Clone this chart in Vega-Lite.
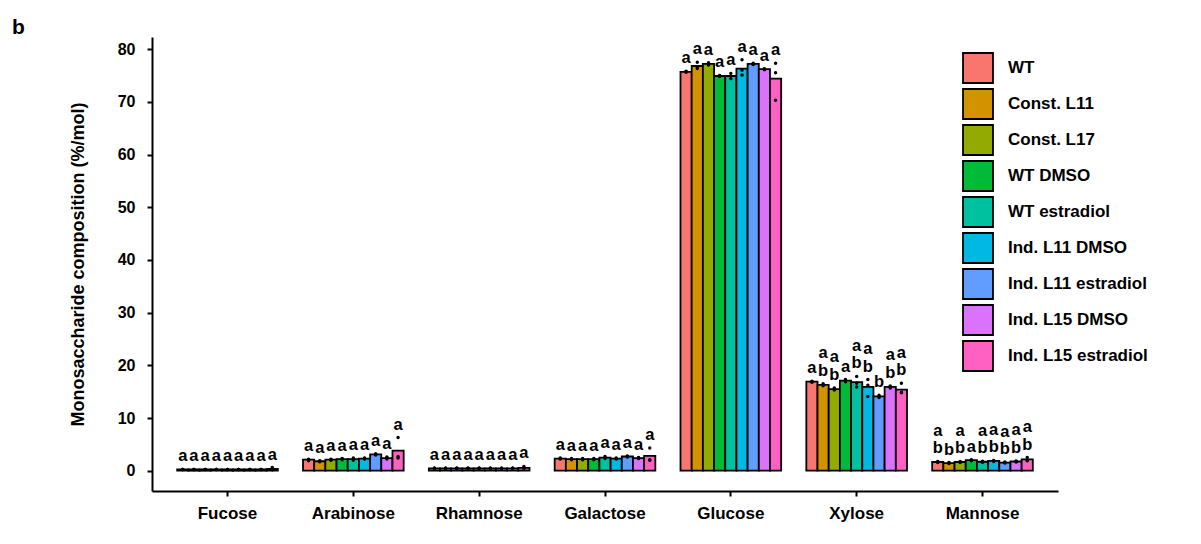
{
  "$schema": "https://vega.github.io/schema/vega-lite/v6.json",
  "width": 906,
  "height": 454,
  "autosize": "none",
  "padding": {"left": 152, "top": 37, "right": 143, "bottom": 53},
  "background": "white",
  "config": {"view": {"stroke": null}, "font": "Liberation Sans"},
  "title": {"text": "b", "anchor": "start", "frame": "group", "dx": -140, "dy": 34, "offset": 0, "baseline": "alphabetic", "fontSize": 21, "fontWeight": "bold", "color": "black"},
  "data": {"values": [
    {"sugar": "Fucose", "group": "WT", "mean": 0.25, "r1": 0.25, "r2": 0.25, "r3": 0.25, "lb": "a", "lt": ""},
    {"sugar": "Fucose", "group": "Const. L11", "mean": 0.25, "r1": 0.25, "r2": 0.25, "r3": 0.25, "lb": "a", "lt": ""},
    {"sugar": "Fucose", "group": "Const. L17", "mean": 0.25, "r1": 0.25, "r2": 0.25, "r3": 0.25, "lb": "a", "lt": ""},
    {"sugar": "Fucose", "group": "WT DMSO", "mean": 0.25, "r1": 0.25, "r2": 0.25, "r3": 0.25, "lb": "a", "lt": ""},
    {"sugar": "Fucose", "group": "WT estradiol", "mean": 0.25, "r1": 0.25, "r2": 0.25, "r3": 0.25, "lb": "a", "lt": ""},
    {"sugar": "Fucose", "group": "Ind. L11 DMSO", "mean": 0.25, "r1": 0.25, "r2": 0.25, "r3": 0.25, "lb": "a", "lt": ""},
    {"sugar": "Fucose", "group": "Ind. L11 estradiol", "mean": 0.25, "r1": 0.25, "r2": 0.25, "r3": 0.25, "lb": "a", "lt": ""},
    {"sugar": "Fucose", "group": "Ind. L15 DMSO", "mean": 0.25, "r1": 0.25, "r2": 0.25, "r3": 0.25, "lb": "a", "lt": ""},
    {"sugar": "Fucose", "group": "Ind. L15 estradiol", "mean": 0.35, "r1": 0.2, "r2": 0.25, "r3": 0.6, "lb": "a", "lt": ""},

    {"sugar": "Arabinose", "group": "WT", "mean": 2.1, "r1": 1.9, "r2": 2.1, "r3": 2.2, "lb": "a", "lt": ""},
    {"sugar": "Arabinose", "group": "Const. L11", "mean": 1.8, "r1": 1.7, "r2": 1.8, "r3": 1.9, "lb": "a", "lt": ""},
    {"sugar": "Arabinose", "group": "Const. L17", "mean": 2.1, "r1": 2.0, "r2": 2.1, "r3": 2.2, "lb": "a", "lt": ""},
    {"sugar": "Arabinose", "group": "WT DMSO", "mean": 2.2, "r1": 2.1, "r2": 2.2, "r3": 2.3, "lb": "a", "lt": ""},
    {"sugar": "Arabinose", "group": "WT estradiol", "mean": 2.2, "r1": 2.0, "r2": 2.2, "r3": 2.4, "lb": "a", "lt": ""},
    {"sugar": "Arabinose", "group": "Ind. L11 DMSO", "mean": 2.3, "r1": 2.2, "r2": 2.3, "r3": 2.4, "lb": "a", "lt": ""},
    {"sugar": "Arabinose", "group": "Ind. L11 estradiol", "mean": 3.1, "r1": 3.0, "r2": 3.1, "r3": 3.2, "lb": "a", "lt": ""},
    {"sugar": "Arabinose", "group": "Ind. L15 DMSO", "mean": 2.4, "r1": 2.2, "r2": 2.4, "r3": 2.6, "lb": "a", "lt": ""},
    {"sugar": "Arabinose", "group": "Ind. L15 estradiol", "mean": 3.8, "r1": 2.4, "r2": 2.7, "r3": 6.3, "lb": "a", "lt": ""},

    {"sugar": "Rhamnose", "group": "WT", "mean": 0.45, "r1": 0.45, "r2": 0.45, "r3": 0.45, "lb": "a", "lt": ""},
    {"sugar": "Rhamnose", "group": "Const. L11", "mean": 0.45, "r1": 0.45, "r2": 0.45, "r3": 0.45, "lb": "a", "lt": ""},
    {"sugar": "Rhamnose", "group": "Const. L17", "mean": 0.45, "r1": 0.45, "r2": 0.45, "r3": 0.45, "lb": "a", "lt": ""},
    {"sugar": "Rhamnose", "group": "WT DMSO", "mean": 0.45, "r1": 0.45, "r2": 0.45, "r3": 0.45, "lb": "a", "lt": ""},
    {"sugar": "Rhamnose", "group": "WT estradiol", "mean": 0.45, "r1": 0.45, "r2": 0.45, "r3": 0.45, "lb": "a", "lt": ""},
    {"sugar": "Rhamnose", "group": "Ind. L11 DMSO", "mean": 0.45, "r1": 0.45, "r2": 0.45, "r3": 0.45, "lb": "a", "lt": ""},
    {"sugar": "Rhamnose", "group": "Ind. L11 estradiol", "mean": 0.45, "r1": 0.45, "r2": 0.45, "r3": 0.45, "lb": "a", "lt": ""},
    {"sugar": "Rhamnose", "group": "Ind. L15 DMSO", "mean": 0.45, "r1": 0.45, "r2": 0.45, "r3": 0.45, "lb": "a", "lt": ""},
    {"sugar": "Rhamnose", "group": "Ind. L15 estradiol", "mean": 0.55, "r1": 0.4, "r2": 0.45, "r3": 0.8, "lb": "a", "lt": ""},

    {"sugar": "Galactose", "group": "WT", "mean": 2.3, "r1": 2.2, "r2": 2.3, "r3": 2.4, "lb": "a", "lt": ""},
    {"sugar": "Galactose", "group": "Const. L11", "mean": 2.2, "r1": 2.1, "r2": 2.2, "r3": 2.3, "lb": "a", "lt": ""},
    {"sugar": "Galactose", "group": "Const. L17", "mean": 2.2, "r1": 2.1, "r2": 2.2, "r3": 2.3, "lb": "a", "lt": ""},
    {"sugar": "Galactose", "group": "WT DMSO", "mean": 2.2, "r1": 2.1, "r2": 2.2, "r3": 2.3, "lb": "a", "lt": ""},
    {"sugar": "Galactose", "group": "WT estradiol", "mean": 2.5, "r1": 2.3, "r2": 2.5, "r3": 2.7, "lb": "a", "lt": ""},
    {"sugar": "Galactose", "group": "Ind. L11 DMSO", "mean": 2.3, "r1": 2.2, "r2": 2.3, "r3": 2.4, "lb": "a", "lt": ""},
    {"sugar": "Galactose", "group": "Ind. L11 estradiol", "mean": 2.7, "r1": 2.6, "r2": 2.7, "r3": 2.8, "lb": "a", "lt": ""},
    {"sugar": "Galactose", "group": "Ind. L15 DMSO", "mean": 2.4, "r1": 2.3, "r2": 2.4, "r3": 2.5, "lb": "a", "lt": ""},
    {"sugar": "Galactose", "group": "Ind. L15 estradiol", "mean": 2.8, "r1": 2.0, "r2": 2.1, "r3": 4.3, "lb": "a", "lt": ""},

    {"sugar": "Glucose", "group": "WT", "mean": 75.7, "r1": 75.6, "r2": 75.7, "r3": 75.8, "lb": "a", "lt": ""},
    {"sugar": "Glucose", "group": "Const. L11", "mean": 76.8, "r1": 76.3, "r2": 76.6, "r3": 77.5, "lb": "a", "lt": ""},
    {"sugar": "Glucose", "group": "Const. L17", "mean": 77.2, "r1": 77.0, "r2": 77.2, "r3": 77.4, "lb": "a", "lt": ""},
    {"sugar": "Glucose", "group": "WT DMSO", "mean": 74.9, "r1": 74.8, "r2": 74.9, "r3": 75.0, "lb": "a", "lt": ""},
    {"sugar": "Glucose", "group": "WT estradiol", "mean": 74.9, "r1": 74.4, "r2": 74.9, "r3": 75.4, "lb": "a", "lt": ""},
    {"sugar": "Glucose", "group": "Ind. L11 DMSO", "mean": 76.3, "r1": 75.1, "r2": 76.0, "r3": 78.0, "lb": "a", "lt": ""},
    {"sugar": "Glucose", "group": "Ind. L11 estradiol", "mean": 77.2, "r1": 77.1, "r2": 77.2, "r3": 77.3, "lb": "a", "lt": ""},
    {"sugar": "Glucose", "group": "Ind. L15 DMSO", "mean": 76.2, "r1": 76.1, "r2": 76.2, "r3": 76.3, "lb": "a", "lt": ""},
    {"sugar": "Glucose", "group": "Ind. L15 estradiol", "mean": 74.4, "r1": 70.3, "r2": 75.5, "r3": 77.3, "lb": "a", "lt": ""},

    {"sugar": "Xylose", "group": "WT", "mean": 16.9, "r1": 16.8, "r2": 16.9, "r3": 17.0, "lb": "a", "lt": ""},
    {"sugar": "Xylose", "group": "Const. L11", "mean": 16.3, "r1": 16.1, "r2": 16.3, "r3": 16.5, "lb": "b", "lt": "a"},
    {"sugar": "Xylose", "group": "Const. L17", "mean": 15.5, "r1": 15.3, "r2": 15.5, "r3": 15.7, "lb": "b", "lt": "a"},
    {"sugar": "Xylose", "group": "WT DMSO", "mean": 17.1, "r1": 16.9, "r2": 17.1, "r3": 17.3, "lb": "a", "lt": ""},
    {"sugar": "Xylose", "group": "WT estradiol", "mean": 16.8, "r1": 15.9, "r2": 16.6, "r3": 17.9, "lb": "b", "lt": "a"},
    {"sugar": "Xylose", "group": "Ind. L11 DMSO", "mean": 15.9, "r1": 14.1, "r2": 16.2, "r3": 17.3, "lb": "b", "lt": "a"},
    {"sugar": "Xylose", "group": "Ind. L11 estradiol", "mean": 14.1, "r1": 13.9, "r2": 14.1, "r3": 14.3, "lb": "b", "lt": ""},
    {"sugar": "Xylose", "group": "Ind. L15 DMSO", "mean": 15.9, "r1": 15.7, "r2": 15.9, "r3": 16.1, "lb": "b", "lt": "a"},
    {"sugar": "Xylose", "group": "Ind. L15 estradiol", "mean": 15.4, "r1": 14.8, "r2": 14.9, "r3": 16.6, "lb": "b", "lt": "a"},

    {"sugar": "Mannose", "group": "WT", "mean": 1.65, "r1": 1.55, "r2": 1.65, "r3": 1.75, "lb": "b", "lt": "a"},
    {"sugar": "Mannose", "group": "Const. L11", "mean": 1.45, "r1": 1.35, "r2": 1.45, "r3": 1.55, "lb": "b", "lt": ""},
    {"sugar": "Mannose", "group": "Const. L17", "mean": 1.65, "r1": 1.55, "r2": 1.65, "r3": 1.75, "lb": "b", "lt": "a"},
    {"sugar": "Mannose", "group": "WT DMSO", "mean": 2.0, "r1": 1.9, "r2": 2.0, "r3": 2.1, "lb": "a", "lt": ""},
    {"sugar": "Mannose", "group": "WT estradiol", "mean": 1.7, "r1": 1.6, "r2": 1.7, "r3": 1.8, "lb": "b", "lt": "a"},
    {"sugar": "Mannose", "group": "Ind. L11 DMSO", "mean": 1.85, "r1": 1.75, "r2": 1.85, "r3": 1.95, "lb": "b", "lt": "a"},
    {"sugar": "Mannose", "group": "Ind. L11 estradiol", "mean": 1.55, "r1": 1.45, "r2": 1.55, "r3": 1.65, "lb": "b", "lt": "a"},
    {"sugar": "Mannose", "group": "Ind. L15 DMSO", "mean": 1.75, "r1": 1.65, "r2": 1.75, "r3": 1.85, "lb": "b", "lt": "a"},
    {"sugar": "Mannose", "group": "Ind. L15 estradiol", "mean": 2.15, "r1": 1.9, "r2": 2.0, "r3": 2.5, "lb": "b", "lt": "a"}
  ]},
  "encoding": {
    "x": {
      "field": "sugar", "type": "nominal",
      "scale": {"domain": ["Fucose", "Arabinose", "Rhamnose", "Galactose", "Glucose", "Xylose", "Mannose"], "paddingInner": 0.2, "paddingOuter": 0.2},
      "axis": {"title": null, "labelAngle": 0, "labelFont": "Liberation Sans", "labelFontWeight": "bold", "labelFontSize": 17, "labelColor": "black", "labelPadding": 9, "domainColor": "black", "domainWidth": 2, "tickColor": "black", "tickWidth": 2, "tickSize": 5, "grid": false}
    },
    "xOffset": {
      "field": "group", "type": "nominal",
      "scale": {"domain": ["WT", "Const. L11", "Const. L17", "WT DMSO", "WT estradiol", "Ind. L11 DMSO", "Ind. L11 estradiol", "Ind. L15 DMSO", "Ind. L15 estradiol"], "paddingInner": 0, "paddingOuter": 0}
    }
  },
  "layer": [
    {
      "mark": {"type": "bar", "stroke": "black", "strokeWidth": 1.8},
      "encoding": {
        "y": {
          "field": "mean", "type": "quantitative",
          "scale": {"domain": [-3.85, 82.3], "nice": false, "zero": false},
          "axis": {"values": [0, 10, 20, 30, 40, 50, 60, 70, 80], "title": "Monosaccharide composition (%/mol)", "titleFont": "Liberation Sans", "titleFontWeight": "bold", "titleFontSize": 18, "titleColor": "black", "titlePadding": 30, "labelFont": "Liberation Sans", "labelFontWeight": "bold", "labelFontSize": 16, "labelColor": "black", "labelPadding": 12, "domainColor": "black", "domainWidth": 2, "tickColor": "black", "tickWidth": 2, "tickSize": 5, "grid": false}
        },
        "y2": {"datum": 0},
        "color": {
          "field": "group", "type": "nominal",
          "scale": {
            "domain": ["WT", "Const. L11", "Const. L17", "WT DMSO", "WT estradiol", "Ind. L11 DMSO", "Ind. L11 estradiol", "Ind. L15 DMSO", "Ind. L15 estradiol"],
            "range": ["#F8766D", "#D39200", "#93AA00", "#00BA38", "#00C19F", "#00B9E3", "#619CFF", "#DB72FB", "#FF61C3"]
          },
          "legend": {"title": null, "orient": "none", "legendX": 810, "legendY": 15, "padding": 0, "symbolType": "square", "symbolSize": 900, "symbolStrokeColor": "black", "symbolStrokeWidth": 1.8, "symbolOpacity": 1, "symbolFillOpacity": 1, "labelFont": "Liberation Sans", "labelFontWeight": "bold", "labelFontSize": 17, "labelColor": "black", "labelOffset": 14, "rowPadding": -2, "labelLimit": 300}
        }
      }
    },
    {
      "transform": [{"fold": ["r1", "r2", "r3"], "as": ["rep", "val"]}],
      "mark": {"type": "point", "filled": true, "color": "black", "size": 12, "opacity": 1},
      "encoding": {"y": {"field": "val", "type": "quantitative"}}
    },
    {
      "transform": [
        {"fold": ["r1", "r2", "r3"], "as": ["rep", "val"]},
        {"aggregate": [{"op": "max", "field": "val", "as": "top"}], "groupby": ["sugar", "group", "lb", "lt"]}
      ],
      "layer": [
        {
          "mark": {"type": "text", "font": "Liberation Sans", "fontWeight": "bold", "fontSize": 16.5, "color": "black", "baseline": "alphabetic", "dy": -8},
          "encoding": {"y": {"field": "top", "type": "quantitative"}, "text": {"field": "lb"}}
        },
        {
          "mark": {"type": "text", "font": "Liberation Sans", "fontWeight": "bold", "fontSize": 16.5, "color": "black", "baseline": "alphabetic", "dy": -25.5},
          "encoding": {"y": {"field": "top", "type": "quantitative"}, "text": {"field": "lt"}}
        }
      ]
    }
  ]
}
